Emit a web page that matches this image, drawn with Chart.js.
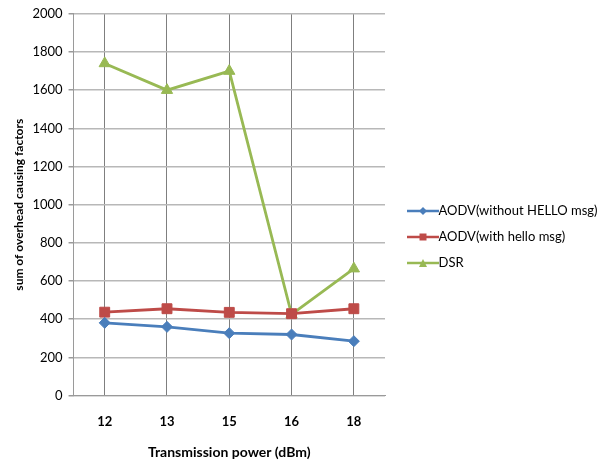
<!DOCTYPE html>
<html>
<head>
<meta charset="utf-8">
<script src="https://cdn.jsdelivr.net/npm/chart.js@4/dist/chart.umd.min.js"></script>
<style>
  html, body { margin: 0; padding: 0; background: #fff; }
  #wrap { width: 598px; height: 467px; }
</style>
</head>
<body>
<div id="wrap"><canvas id="c" width="598" height="467"></canvas></div>
<script>
// Transmission power levels (dBm)
const categories = ['12', '13', '15', '16', '18'];

// Sum of overhead causing factors per protocol
const aodvNoHello = [381, 360, 327, 320, 285];
const aodvHello   = [437, 455, 436, 429, 455];
const dsr         = [1740, 1600, 1700, 425, 665];

const seriesNames = ['AODV(without HELLO msg)', 'AODV(with hello msg)', 'DSR'];
const yTicks = [0, 200, 400, 600, 800, 1000, 1200, 1400, 1600, 1800, 2000];

const BLUE = '#4a7ebb';
const RED = '#be4b48';
const GREEN = '#98b954';

// line-plus-marker swatch for the legend; the blank left margin nudges
// the drawn sample to the right of the legend item's anchor point
const SHIFT = 8;
function swatch(color, style) {
  const cv = document.createElement('canvas');
  cv.width = 32 + 2 * SHIFT; cv.height = 12;
  const g = cv.getContext('2d');
  const x0 = 2 * SHIFT, mid = x0 + 16;
  g.strokeStyle = color; g.lineWidth = 2.5;
  g.beginPath(); g.moveTo(x0, 6); g.lineTo(x0 + 32, 6); g.stroke();
  g.fillStyle = color;
  g.beginPath();
  if (style === 'rectRot') { g.moveTo(mid, 2); g.lineTo(mid + 4, 6); g.lineTo(mid, 10); g.lineTo(mid - 4, 6); }
  else if (style === 'rect') { g.rect(mid - 3.5, 2.5, 7, 7); }
  else { g.moveTo(mid, 2); g.lineTo(mid + 4, 10); g.lineTo(mid - 4, 10); }
  g.closePath(); g.fill();
  return cv;
}

const styles = ['rectRot', 'rect', 'triangle'];
const radii = [5.5, 7, 6.5];
const colors = [BLUE, RED, GREEN];
const values = [aodvNoHello, aodvHello, dsr];

const datasets = values.map((v, i) => ({
  label: seriesNames[i],
  data: v,
  borderColor: colors[i],
  backgroundColor: colors[i],
  borderWidth: 2.8,
  pointStyle: styles[i],
  pointRadius: radii[i],
  pointBorderWidth: 1,
  tension: 0
}));

const swatches = styles.map((s, i) => swatch(colors[i], s));

// pin the legend column to a fixed width on the right and
// lower its item block slightly
const LEGEND_W = 213;
const LEGEND_DROP = 4;
const legendPlacePlugin = {
  id: 'legendPlace',
  beforeInit(chart) {
    const lg = chart.legend;
    const fit = lg.fit;
    lg.fit = function () { fit.call(this); this.width = LEGEND_W; };
  },
  afterLayout(chart) {
    chart.legend.top += LEGEND_DROP;
    chart.legend.bottom += LEGEND_DROP;
  }
};

new Chart(document.getElementById('c'), {
  type: 'line',
  data: { labels: categories, datasets },
  plugins: [legendPlacePlugin],
  options: {
    responsive: false,
    animation: false,
    layout: { padding: { top: 6, left: 12, right: 0, bottom: 7 } },
    plugins: {
      tooltip: { enabled: false },
      legend: {
        position: 'right',
        align: 'center',
        labels: {
          usePointStyle: true,
          pointStyleWidth: 34,
          padding: 13,
          color: '#000',
          font: { family: 'Lato', size: 13 },
          generateLabels(chart) {
            return chart.data.datasets.map((d, i) => ({
              text: d.label,
              pointStyle: swatches[i],
              fillStyle: d.borderColor,
              strokeStyle: d.borderColor,
              lineWidth: 0,
              hidden: false,
              datasetIndex: i,
              fontColor: '#000'
            }));
          }
        }
      }
    },
    scales: {
      x: {
        offset: true,
        grid: { offset: false, color: '#7f7f7f', lineWidth: 1, drawTicks: false },
        border: { color: '#9a9a9a', width: 1 },
        ticks: { color: '#000', padding: 21, font: { family: 'Lato', size: 13, weight: 'bold', lineHeight: 0.77 } },
        title: {
          display: true,
          text: 'Transmission power (dBm)',
          color: '#000',
          padding: { top: -3, bottom: 0 },
          font: { family: 'Lato', size: 14, weight: 'bold', lineHeight: 1.1 }
        }
      },
      y: {
        min: 0,
        max: 2000,
        afterBuildTicks(axis) { axis.ticks = yTicks.map(v => ({ value: v })); },
        grid: { color: '#b8b8b8', lineWidth: 1.5, tickLength: 5, tickColor: '#9a9a9a' },
        border: { color: '#9a9a9a', width: 1 },
        ticks: { color: '#000', padding: 6, font: { family: 'Lato', size: 13 }, callback: v => String(v) },
        title: {
          display: true,
          text: 'sum of overhead causing factors',
          color: '#000',
          padding: { top: 0, bottom: 0 },
          font: { family: 'Lato', size: 12, weight: 'bold' }
        }
      }
    }
  }
});
</script>
</body>
</html>
